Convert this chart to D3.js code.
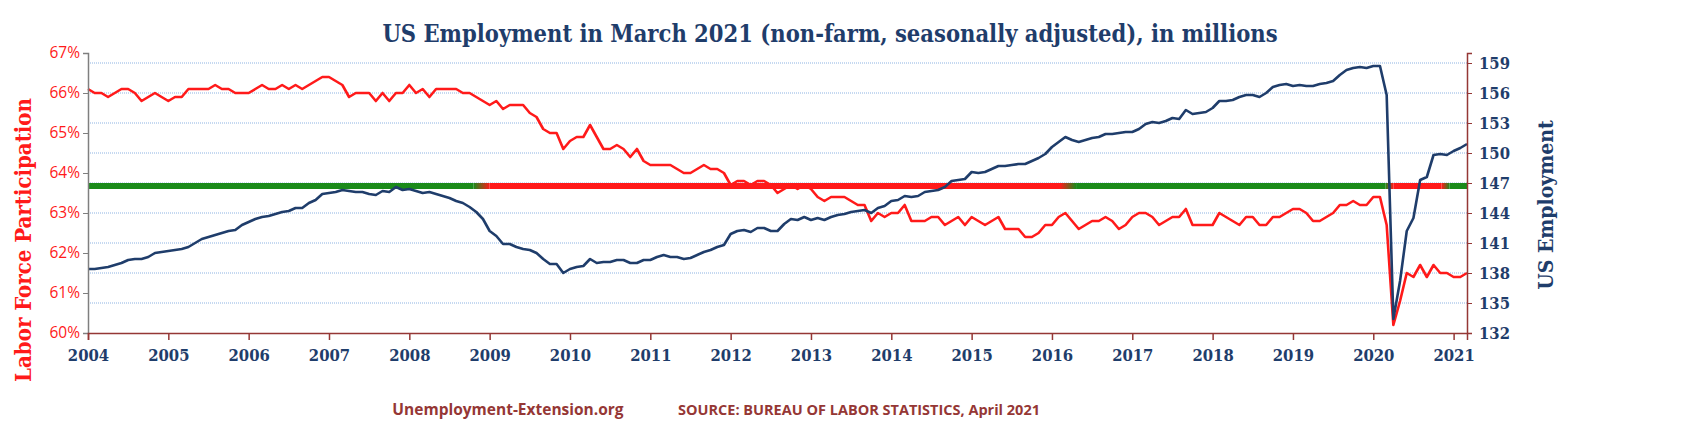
<!DOCTYPE html>
<html lang="en">
<head>
<meta charset="UTF-8">
<script src="https://cdnjs.cloudflare.com/ajax/libs/d3/7.8.4/d3.min.js"></script>
<style>body{margin:0;background:#fff}</style>
</head>
<body>
<script>
// monthly values, Jan 2004 .. Mar 2021
const lfp = [
  66.1,66.0,66.0,65.9,66.0,66.1,66.1,66.0,65.8,65.9,66.0,65.9,
  65.8,65.9,65.9,66.1,66.1,66.1,66.1,66.2,66.1,66.1,66.0,66.0,
  66.0,66.1,66.2,66.1,66.1,66.2,66.1,66.2,66.1,66.2,66.3,66.4,
  66.4,66.3,66.2,65.9,66.0,66.0,66.0,65.8,66.0,65.8,66.0,66.0,
  66.2,66.0,66.1,65.9,66.1,66.1,66.1,66.1,66.0,66.0,65.9,65.8,
  65.7,65.8,65.6,65.7,65.7,65.7,65.5,65.4,65.1,65.0,65.0,64.6,
  64.8,64.9,64.9,65.2,64.9,64.6,64.6,64.7,64.6,64.4,64.6,64.3,
  64.2,64.2,64.2,64.2,64.1,64.0,64.0,64.1,64.2,64.1,64.1,64.0,
  63.7,63.8,63.8,63.7,63.8,63.8,63.7,63.5,63.6,63.7,63.6,63.7,
  63.6,63.4,63.3,63.4,63.4,63.4,63.3,63.2,63.2,62.8,63.0,62.9,
  63.0,63.0,63.2,62.8,62.8,62.8,62.9,62.9,62.7,62.8,62.9,62.7,
  62.9,62.8,62.7,62.8,62.9,62.6,62.6,62.6,62.4,62.4,62.5,62.7,
  62.7,62.9,63.0,62.8,62.6,62.7,62.8,62.8,62.9,62.8,62.6,62.7,
  62.9,63.0,63.0,62.9,62.7,62.8,62.9,62.9,63.1,62.7,62.7,62.7,
  62.7,63.0,62.9,62.8,62.7,62.9,62.9,62.7,62.7,62.9,62.9,63.0,
  63.1,63.1,63.0,62.8,62.8,62.9,63.0,63.2,63.2,63.3,63.2,63.2,
  63.4,63.4,62.7,60.2,60.8,61.5,61.4,61.7,61.4,61.7,61.5,61.5,
  61.4,61.4,61.5
];
const employment = [
  138.4,138.4,138.5,138.6,138.8,139.0,139.3,139.4,139.4,139.6,140.0,140.1,
  140.2,140.3,140.4,140.6,141.0,141.4,141.6,141.8,142.0,142.2,142.3,142.8,
  143.1,143.4,143.6,143.7,143.9,144.1,144.2,144.5,144.5,145.0,145.3,145.9,
  146.0,146.1,146.3,146.2,146.1,146.1,145.9,145.8,146.2,146.1,146.6,146.3,
  146.4,146.2,146.0,146.1,145.9,145.7,145.5,145.2,145.0,144.6,144.1,143.4,
  142.2,141.7,140.9,140.9,140.6,140.4,140.3,140.0,139.4,138.9,138.9,138.0,
  138.4,138.6,138.7,139.4,139.0,139.1,139.1,139.3,139.3,139.0,139.0,139.3,
  139.3,139.6,139.8,139.6,139.6,139.4,139.5,139.8,140.1,140.3,140.6,140.8,
  141.9,142.2,142.3,142.1,142.5,142.5,142.2,142.2,142.9,143.4,143.3,143.6,
  143.3,143.5,143.3,143.6,143.8,143.9,144.1,144.2,144.3,144.0,144.5,144.7,
  145.2,145.3,145.7,145.6,145.7,146.1,146.2,146.3,146.6,147.2,147.3,147.4,
  148.1,148.0,148.1,148.4,148.7,148.7,148.8,148.9,148.9,149.2,149.5,149.9,
  150.6,151.1,151.6,151.3,151.1,151.3,151.5,151.6,151.9,151.9,152.0,152.1,
  152.1,152.4,152.9,153.1,153.0,153.2,153.5,153.4,154.3,153.9,154.0,154.1,
  154.5,155.2,155.2,155.3,155.6,155.8,155.8,155.6,156.0,156.6,156.8,156.9,
  156.7,156.8,156.7,156.7,156.9,157.0,157.2,157.8,158.3,158.5,158.6,158.5,
  158.7,158.7,155.8,133.4,137.2,142.2,143.5,147.3,147.6,149.8,149.9,149.8,
  150.2,150.5,150.9
];
const years = d3.range(2004, 2022);
const lfpTicks = [60, 61, 62, 63, 64, 65, 66, 67];
const empTicks = [132, 135, 138, 141, 144, 147, 150, 153, 156, 159];
// reference band level and its colour segments [from, to, colour]
const bandLevel = 146.7;
const bandSegments = [[2004, 2008.8, "#1a8a1a"], [2009.0, 2016.1, "#ff1a1a"], [2016.3, 2020.15, "#1a8a1a"], [2020.25, 2020.85, "#ff1a1a"], [2020.95, 2021.17, "#1a8a1a"]];

const W = 1704, H = 432;
const m = {left: 88, right: 1467, top: 53, bottom: 333};
const navy = "#1f3d6b", red = "#ff1a1a", brown = "#953735";
const serif = "DejaVu Serif Condensed, serif";

const svg = d3.select("body").append("svg").attr("width", W).attr("height", H);

const t = lfp.map((d, i) => 2004 + i / 12);
const x = d3.scaleLinear().domain([2004, 2004 + (lfp.length - 1) / 12]).range([m.left, m.right]);
const yL = d3.scaleLinear().domain([60, 67]).range([m.bottom, m.top]);
const yR = d3.scaleLinear().domain([132, 160]).range([m.bottom, m.top]);

// gridlines
svg.append("g").selectAll("line").data(empTicks.slice(1)).join("line")
  .attr("x1", m.left).attr("x2", m.right)
  .attr("y1", d => yR(d)).attr("y2", d => yR(d))
  .attr("stroke", "#8db3e2").attr("stroke-width", 1).attr("stroke-dasharray", "1,1");

// band
const defs = svg.append("defs");
bandSegments.forEach((s, i) => {
  svg.append("line")
    .attr("x1", x(s[0])).attr("x2", x(s[1]))
    .attr("y1", yR(bandLevel)).attr("y2", yR(bandLevel))
    .attr("stroke", s[2]).attr("stroke-width", 6);
  if (i < bandSegments.length - 1) {
    const g = defs.append("linearGradient").attr("id", "g" + i);
    g.append("stop").attr("offset", "0%").attr("stop-color", s[2]);
    g.append("stop").attr("offset", "100%").attr("stop-color", bandSegments[i + 1][2]);
    svg.append("rect")
      .attr("x", x(s[1])).attr("width", x(bandSegments[i + 1][0]) - x(s[1]))
      .attr("y", yR(bandLevel) - 3).attr("height", 6)
      .attr("fill", `url(#g${i})`);
  }
});

// lines
svg.append("path").datum(lfp)
  .attr("fill", "none").attr("stroke", red).attr("stroke-width", 2.6).attr("stroke-linejoin", "round")
  .attr("d", d3.line().x((d, i) => x(t[i])).y(d => yL(d)));
svg.append("path").datum(employment)
  .attr("fill", "none").attr("stroke", navy).attr("stroke-width", 2.6).attr("stroke-linejoin", "round")
  .attr("d", d3.line().x((d, i) => x(t[i])).y(d => yR(d)));

// axes
const la = svg.append("g").attr("transform", `translate(${m.left},0)`)
  .call(d3.axisLeft(yL).tickValues(lfpTicks).tickSize(5).tickFormat(d => d + "%"));
la.select(".domain").attr("stroke", "#7f7f7f").attr("stroke-width", 1.5);
la.selectAll(".tick line").attr("stroke", "#7f7f7f");
la.selectAll("text").attr("fill", red).attr("font-family", "Open Sans, sans-serif").attr("font-size", 15.5);

const ra = svg.append("g").attr("transform", `translate(${m.right},0)`)
  .call(d3.axisRight(yR).tickValues(empTicks).tickSize(5));
ra.select(".domain").attr("stroke", brown).attr("stroke-width", 1.5);
ra.selectAll(".tick line").attr("stroke", brown);
ra.selectAll("text").attr("fill", navy).attr("font-family", serif)
  .attr("font-weight", "bold").attr("font-size", 16.5).attr("x", 12);

const xa = svg.append("g").attr("transform", `translate(0,${m.bottom})`)
  .call(d3.axisBottom(x).tickValues(years).tickSize(7).tickFormat(d3.format("d")));
xa.select(".domain").attr("stroke", brown).attr("stroke-width", 1.5);
xa.selectAll(".tick line").attr("stroke", brown).attr("stroke-width", 1.5);
xa.selectAll("text").attr("fill", navy).attr("font-family", serif)
  .attr("font-weight", "bold").attr("font-size", 16.5).attr("dy", "1.1em");

// titles
svg.append("text").attr("x", 830).attr("y", 42).attr("text-anchor", "middle")
  .attr("font-family", serif).attr("font-weight", "bold").attr("font-size", 23.5)
  .attr("fill", navy).text("US Employment in March 2021 (non-farm, seasonally adjusted), in millions");
svg.append("text").attr("transform", `translate(31,${(m.top + m.bottom) / 2 + 47}) rotate(-90)`)
  .attr("text-anchor", "middle").attr("font-family", serif).attr("font-weight", "bold")
  .attr("font-size", 22).attr("fill", red).text("Labor Force Participation");
svg.append("text").attr("transform", `translate(1553,${(m.top + m.bottom) / 2 + 12}) rotate(-90)`)
  .attr("text-anchor", "middle").attr("font-family", serif).attr("font-weight", "bold")
  .attr("font-size", 21).attr("fill", navy).text("US Employment");
svg.append("text").attr("x", 508).attr("y", 415).attr("text-anchor", "middle")
  .attr("font-family", "Open Sans, sans-serif").attr("font-weight", "bold").attr("font-size", 15.5)
  .attr("fill", brown).text("Unemployment-Extension.org");
svg.append("text").attr("x", 678).attr("y", 415)
  .attr("font-family", "Open Sans, sans-serif").attr("font-weight", "bold").attr("font-size", 14.5)
  .attr("fill", brown).text("SOURCE: BUREAU OF LABOR STATISTICS, April 2021");
</script>
</body>
</html>
